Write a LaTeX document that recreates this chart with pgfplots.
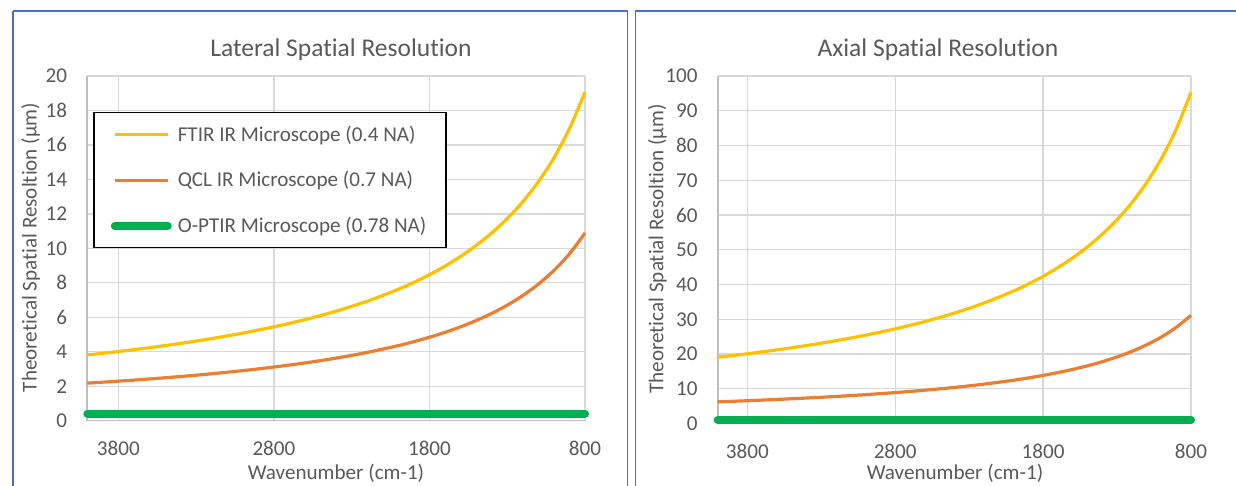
\documentclass[border=0pt]{standalone}
\usepackage{pgfplots}
\usepackage{pgfplotstable}
\pgfplotsset{compat=1.18}
\usepackage{fontspec}
\setmainfont{Carlito}[Ligatures={NoCommon,NoContextual}]

\definecolor{ftir}{HTML}{FFC000}
\definecolor{qcl}{HTML}{ED7D31}
\definecolor{optir}{HTML}{00B050}
\definecolor{gridc}{HTML}{D9D9D9}
\definecolor{axisc}{HTML}{BFBFBF}
\definecolor{txt}{HTML}{595959}
\definecolor{frame}{HTML}{4472C4}

% Lateral resolution (um) versus wavenumber (cm-1)
\pgfplotstableread{
wn    ftir     qcl     optir
4000  3.8125   2.1786  0.416
3800  4.0132   2.2932  0.416
3600  4.2361   2.4206  0.416
3400  4.4853   2.5630  0.416
3200  4.7656   2.7232  0.416
3000  5.0833   2.9048  0.416
2800  5.4464   3.1122  0.416
2600  5.8654   3.3516  0.416
2400  6.3542   3.6310  0.416
2200  6.9318   3.9610  0.416
2000  7.6250   4.3571  0.416
1900  8.0263   4.5865  0.416
1800  8.4722   4.8413  0.416
1700  8.9706   5.1261  0.416
1600  9.5313   5.4464  0.416
1500  10.1667  5.8095  0.416
1400  10.8929  6.2245  0.416
1300  11.7308  6.7033  0.416
1200  12.7083  7.2619  0.416
1100  13.8636  7.9221  0.416
1000  15.2500  8.7143  0.416
900   16.9444  9.6825  0.416
800   19.0625  10.8929 0.416
}\lateral

% Axial resolution (um) versus wavenumber (cm-1)
\pgfplotstableread{
wn    ftir     qcl     optir
4000  19.0625  6.2245  1.067
3800  20.0658  6.5521  1.067
3600  21.1806  6.9161  1.067
3400  22.4265  7.3229  1.067
3200  23.8281  7.7806  1.067
3000  25.4167  8.2993  1.067
2800  27.2321  8.8921  1.067
2600  29.3269  9.5762  1.067
2400  31.7708  10.3740 1.067
2200  34.6591  11.3170 1.067
2000  38.1250  12.4490 1.067
1900  40.1316  13.1040 1.067
1800  42.3611  13.8320 1.067
1700  44.8529  14.6460 1.067
1600  47.6563  15.5610 1.067
1500  50.8333  16.5990 1.067
1400  54.4643  17.7840 1.067
1300  58.6538  19.1520 1.067
1200  63.5417  20.7480 1.067
1100  69.3182  22.6350 1.067
1000  76.2500  24.8980 1.067
900   84.7222  27.6640 1.067
800   95.3125  31.1225 1.067
}\axial

\newcommand{\lblfont}{\fontsize{21.2}{25}\selectfont}
\newcommand{\ttlfont}{\fontsize{25.6}{30}\selectfont}

\pgfplotsset{
  panel/.style={
    scale only axis,
    x dir=reverse,
    xmin=800, xmax=4000,
    xtick={800,1800,2800,3800},
    ymin=0,
    scaled ticks=false,
    /pgf/number format/1000 sep={},
    /pgf/number format/assume math mode=true,
    grid=major,
    major grid style={draw=gridc, line width=1.3bp},
    axis x line*=bottom,
    axis y line*=left,
    axis line style={draw=axisc, line width=1.6bp},
    major tick length=0pt,
    tick style={draw=none},
    ticklabel style={font=\lblfont, text=txt},
    xticklabel style={anchor=north, inner sep=0pt, yshift=-20bp},
    yticklabel style={anchor=east, inner sep=0pt, xshift=-20bp},
    clip=false,
  },
  ftirline/.style={color=ftir, line width=3.2bp, smooth, no markers},
  qclline/.style={color=qcl, line width=3.2bp, smooth, no markers},
  optirline/.style={color=optir, line width=8bp, line cap=round, no markers},
}

\begin{document}
\begin{tikzpicture}[x=1bp, y=1bp]
\useasboundingbox (0,0) rectangle (1236,486);

% chart frames
\draw[frame, line width=1.5bp] (13,475) -- (627.5,475) -- (627.5,-5);
\draw[frame, line width=1.5bp] (13,-5) -- (13,475);
\draw[frame, line width=1.5bp] (635.5,-5) -- (635.5,475) -- (1240,475);

% lateral resolution
\begin{axis}[panel,
  at={(87.3bp,65.3bp)}, anchor=south west,
  width=497.7bp, height=344.7bp,
  ymax=20, ytick distance=2,
  legend style={at={(0.0115,0.8956)}, anchor=north west,
    draw=black, line width=1.5bp, fill=white,
    font=\lblfont, text=txt,
    inner xsep=17bp, inner ysep=11.5bp, row sep=24.5bp,
    nodes={inner sep=0pt, text height=17bp, text depth=4bp},
    /tikz/every odd column/.append style={column sep=6bp}},
  legend cell align=left,
  legend image code/.code={\draw[#1] (0bp,0bp) -- (53bp,0bp);},
]
\addplot[ftirline] table[x=wn, y=ftir] {\lateral};
\addlegendentry{\makebox[251bp][l]{FTIR IR Microscope (0.4 NA)}}
\addplot[qclline] table[x=wn, y=qcl] {\lateral};
\addlegendentry{QCL IR Microscope (0.7 NA)}
\addplot[optirline] table[x=wn, y=optir] {\lateral};
\addlegendentry{O-PTIR Microscope (0.78 NA)}
\end{axis}

% axial resolution
\begin{axis}[panel,
  at={(717.7bp,62.5bp)}, anchor=south west,
  width=473.3bp, height=347.5bp,
  ymax=100, ytick distance=10,
]
\addplot[ftirline] table[x=wn, y=ftir] {\axial};
\addplot[qclline] table[x=wn, y=qcl] {\axial};
\addplot[optirline] table[x=wn, y=optir] {\axial};
\end{axis}

% titles and axis labels
\node[anchor=base, text=txt, font=\ttlfont] at (341,429.3) {Lateral Spatial Resolution};
\node[anchor=base, text=txt, font=\ttlfont] at (938,429.3) {Axial Spatial Resolution};
\node[anchor=base, text=txt, font=\lblfont] at (336,6) {Wavenumber (cm-1)};
\node[anchor=base, text=txt, font=\lblfont] at (955,6) {Wavenumber (cm-1)};
\node[anchor=base, rotate=90, text=txt, font=\lblfont] at (36.7,238.5) {Theoretical Spatial Resoltion (µm)};
\node[anchor=base, rotate=90, text=txt, font=\lblfont] at (663.3,237) {Theoretical Spatial Resoltion (µm)};
\end{tikzpicture}
\end{document}
